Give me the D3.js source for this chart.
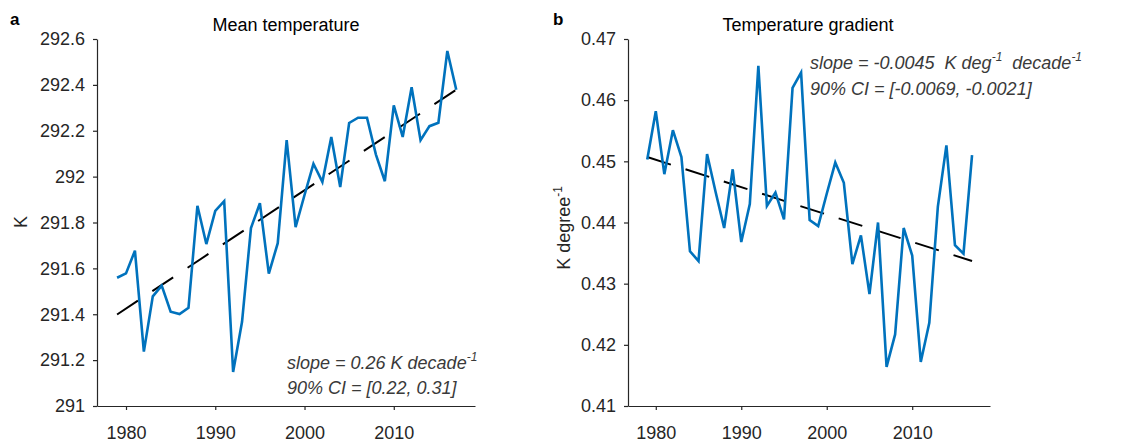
<!DOCTYPE html>
<html><head><meta charset="utf-8">
<script src="https://cdn.jsdelivr.net/npm/d3@7/dist/d3.min.js"></script>
<style>
body{margin:0;background:#fff}
text{font-family:"Liberation Sans",Arial,Helvetica,sans-serif}
</style>
</head><body>
<svg id="chart" width="1143" height="443"></svg>
<script>
// ---------- data ----------
const years = [1979,1980,1981,1982,1983,1984,1985,1986,1987,1988,1989,1990,1991,1992,1993,1994,1995,1996,1997,1998,
  1999,2000,2001,2002,2003,2004,2005,2006,2007,2008,2009,2010,2011,2012,2013,2014,2015,2016,2017];
const meanTemp = [291.559,291.578,291.677,291.237,291.478,291.525,291.411,291.401,291.428,291.873,291.706,291.851,
  291.893,291.148,291.367,291.776,291.884,291.577,291.710,292.159,291.780,291.920,292.056,291.977,292.173,291.955,
  292.234,292.257,292.257,292.096,291.980,292.311,292.173,292.390,292.159,292.220,292.235,292.548,292.379];
const tempGradient = [0.4503,0.4582,0.4479,0.4551,0.4507,0.4353,0.4337,0.4512,0.4450,0.4391,0.4487,0.4368,0.4430,
  0.4656,0.4427,0.4449,0.4405,0.4620,0.4645,0.4404,0.4394,0.4447,0.4498,0.4465,0.4332,0.4379,0.4283,0.4400,0.4164,
  0.4217,0.4391,0.4346,0.4172,0.4236,0.4426,0.4526,0.4363,0.4349,0.4510];
const trendYears = [1979, 2017];
const trendTemp = [291.399, 292.379];
const trendGradient = [0.4507, 0.4337];
const xTicks = [1980, 1990, 2000, 2010];
const yTicksTemp = [291, 291.2, 291.4, 291.6, 291.8, 292, 292.2, 292.4, 292.6];
const yTicksGradient = [0.41, 0.42, 0.43, 0.44, 0.45, 0.46, 0.47];

// ---------- drawing ----------
const svg = d3.select("#chart");
const axisColor = "#262626";
const lineBlue = "#0072BD";

function panel(opt) {
  const g = svg.append("g");
  const x = d3.scaleLinear().domain([1976.75, 2019.1]).range([opt.left, opt.right]);
  const y = d3.scaleLinear().domain(opt.yDomain).range([406, 39]);

  const xa = g.append("g").attr("transform", "translate(0,406)")
    .call(d3.axisBottom(x).tickValues(xTicks).tickFormat(d3.format("d")).tickSize(4).tickSizeOuter(0).tickPadding(16));
  const ya = g.append("g").attr("transform", `translate(${opt.left},0)`)
    .call(d3.axisLeft(y).tickValues(opt.yTicks).tickFormat(opt.fmt).tickSize(4).tickSizeOuter(0).tickPadding(8));
  [xa, ya].forEach(a => {
    a.select(".domain").attr("stroke", axisColor).attr("stroke-width", 1.2);
    a.selectAll(".tick line").attr("stroke", axisColor).attr("stroke-width", 1.2);
    a.selectAll(".tick text").attr("fill", axisColor).style("font-size", "18px")
      .style("font-family", '"Liberation Sans",Arial,sans-serif');
  });

  // trend line
  g.append("path")
    .datum(trendYears.map((d, i) => [d, opt.trend[i]]))
    .attr("d", d3.line().x(d => x(d[0])).y(d => y(d[1])))
    .attr("fill", "none").attr("stroke", "#000").attr("stroke-width", 2)
    .attr("stroke-dasharray", opt.dash);

  // data line
  g.append("path")
    .datum(years.map((d, i) => [d, opt.values[i]]))
    .attr("d", d3.line().x(d => x(d[0])).y(d => y(d[1])))
    .attr("fill", "none").attr("stroke", lineBlue).attr("stroke-width", 2.6)
    .attr("stroke-linejoin", "miter");

  // title
  g.append("text").attr("x", opt.titleX).attr("y", 31).attr("text-anchor", "middle")
    .style("font-size", "18px").attr("fill", "#000").text(opt.title);
  // panel letter
  g.append("text").attr("x", opt.letterX).attr("y", 25)
    .style("font-size", "17px").style("font-weight", "bold").attr("fill", "#000").text(opt.letter);
  return {g, x, y};
}

const a = panel({left: 97, right: 475, yDomain: [291, 292.6], yTicks: yTicksTemp,
  fmt: d => d3.format(".1f")(d).replace(/\.0$/, ""), values: meanTemp, trend: trendTemp,
  title: "Mean temperature", titleX: 286, letter: "a", letterX: 10, dash: "25,17.3"});
const b = panel({left: 628, right: 990, yDomain: [0.41, 0.47], yTicks: yTicksGradient,
  fmt: d3.format(".2f"), values: tempGradient, trend: trendGradient,
  title: "Temperature gradient", titleX: 808, letter: "b", letterX: 553, dash: "24.8,15.4"});

// y labels
svg.append("text").attr("transform", "translate(27,222) rotate(-90)").attr("text-anchor", "middle")
  .style("font-size", "18px").attr("fill", axisColor).text("K");
const yl = svg.append("text").attr("transform", "translate(570,228) rotate(-90)").attr("text-anchor", "middle")
  .style("font-size", "18px").attr("fill", axisColor);
yl.append("tspan").text("K degree");
yl.append("tspan").attr("dy", -8).style("font-size", "12px").text("-1");

// annotations
const annColor = "#3a3a3a";
function ann(xp, yp, parts) {
  const t = svg.append("text").attr("x", xp).attr("y", yp).attr("fill", annColor)
    .style("font-size", "18px").style("font-style", "italic").attr("xml:space", "preserve")
    .style("white-space", "pre");
  let raised = false;
  parts.forEach(p => {
    const s = t.append("tspan").text(p.t);
    if (p.sup) {
      s.attr("dy", -8).style("font-size", "12px");
      raised = true;
    } else if (raised) {
      s.attr("dy", 8);
      raised = false;
    }
  });
}
ann(287, 369, [{t: "slope = 0.26 K decade"}, {t: "-1", sup: true}]);
ann(287, 394, [{t: "90% CI = [0.22, 0.31]"}]);
ann(810, 69, [{t: "slope = -0.0045  K deg"}, {t: "-1", sup: true}, {t: "  decade"}, {t: "-1", sup: true}]);
ann(810, 95, [{t: "90% CI = [-0.0069, -0.0021]"}]);
</script>
</body></html>
